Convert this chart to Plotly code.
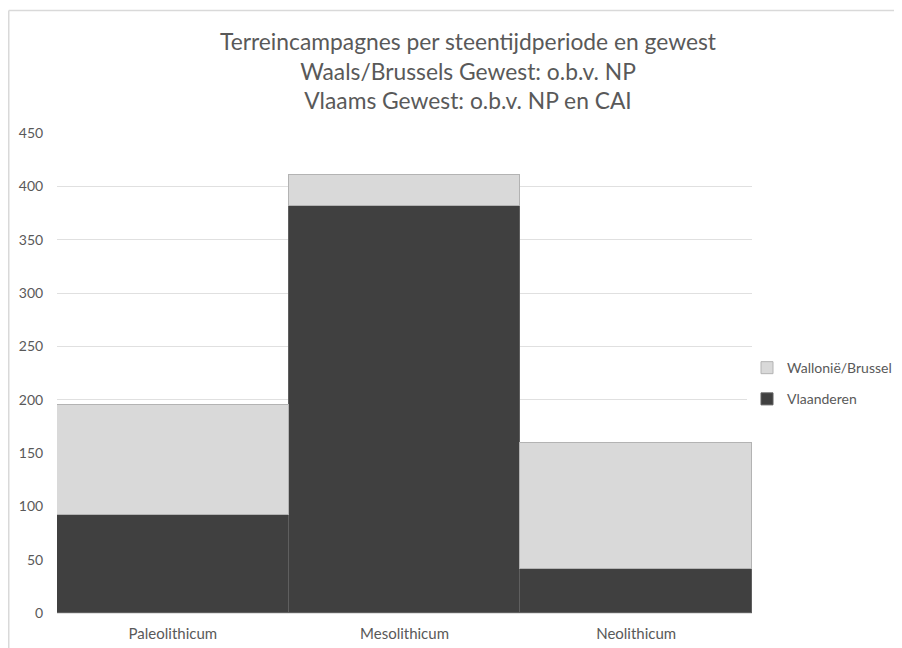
import plotly.graph_objects as go

categories = ["Paleolithicum", "Mesolithicum", "Neolithicum"]
vlaanderen = [92, 382, 41]
wallonie_brussel = [103, 29, 118]
y_ticks = [0, 50, 100, 150, 200, 250, 300, 350, 400, 450]

FONT = "Lato, 'Open Sans', sans-serif"
TXT = "#595959"

W, H = 886, 640
L, T = 49, 125
PW, PH = 695, 480
R, B = W - L - PW, H - T - PH

fig = go.Figure()
fig.add_trace(go.Bar(
    x=categories, y=vlaanderen, name="Vlaanderen", legendgroup="a", legendrank=2,
    marker=dict(color="#404040", line=dict(color="#5f5f5f", width=1)),
))
fig.add_trace(go.Bar(
    x=categories, y=wallonie_brussel, name="Wallonië/Brussel", legendgroup="b", legendrank=1,
    marker=dict(color="#d9d9d9", line=dict(color="#b3b3b3", width=1)),
))

fig.update_layout(
    width=W, height=H,
    barmode="stack", bargap=0,
    paper_bgcolor="white", plot_bgcolor="white",
    margin=dict(l=L, r=R, t=T, b=B, autoexpand=False),
    font=dict(family=FONT, color=TXT, size=14),
    title=dict(
        text="Terreincampagnes per steentijdperiode en gewest<br>Waals/Brussels Gewest: o.b.v. NP<br>Vlaams Gewest: o.b.v. NP en CAI",
        x=460 / W, xanchor="center", xref="container",
        y=1 - 42 / H, yanchor="top", yref="container",
        font=dict(family=FONT, size=22.8, color=TXT),
    ),
    legend=dict(
        x=(739 - L) / PW, xanchor="left", y=0.478, yanchor="middle",
        traceorder="grouped", tracegroupgap=10,
        font=dict(family=FONT, size=14, color=TXT),
        itemwidth=30,
    ),
    xaxis=dict(
        showgrid=False, showline=False, zeroline=False, automargin=False,
        ticks="outside", ticklen=7, tickcolor="rgba(0,0,0,0)",
        tickfont=dict(size=15, color=TXT),
    ),
    yaxis=dict(
        range=[0, 450], tickvals=y_ticks, showgrid=True, gridcolor="#e0e0e0",
        gridwidth=1, zeroline=True, zerolinecolor="#e0e0e0", showline=False,
        automargin=False,
        ticks="outside", ticklen=10, tickcolor="rgba(0,0,0,0)",
        tickfont=dict(size=14, color=TXT),
    ),
    shapes=[
        dict(type="line", xref="paper", yref="paper",
             x0=(0.75 - L) / PW, x1=(W + 20 - L) / PW,
             y0=1 + (T - 2.5) / PH, y1=1 + (T - 2.5) / PH,
             line=dict(color="#d9d9d9", width=1.5)),
        dict(type="line", xref="paper", yref="paper",
             x0=(0.75 - L) / PW, x1=(0.75 - L) / PW,
             y0=1 + (T - 2.5) / PH, y1=-0.2,
             line=dict(color="#d9d9d9", width=1.5)),
    ],
)

fig.write_html("out.html")
